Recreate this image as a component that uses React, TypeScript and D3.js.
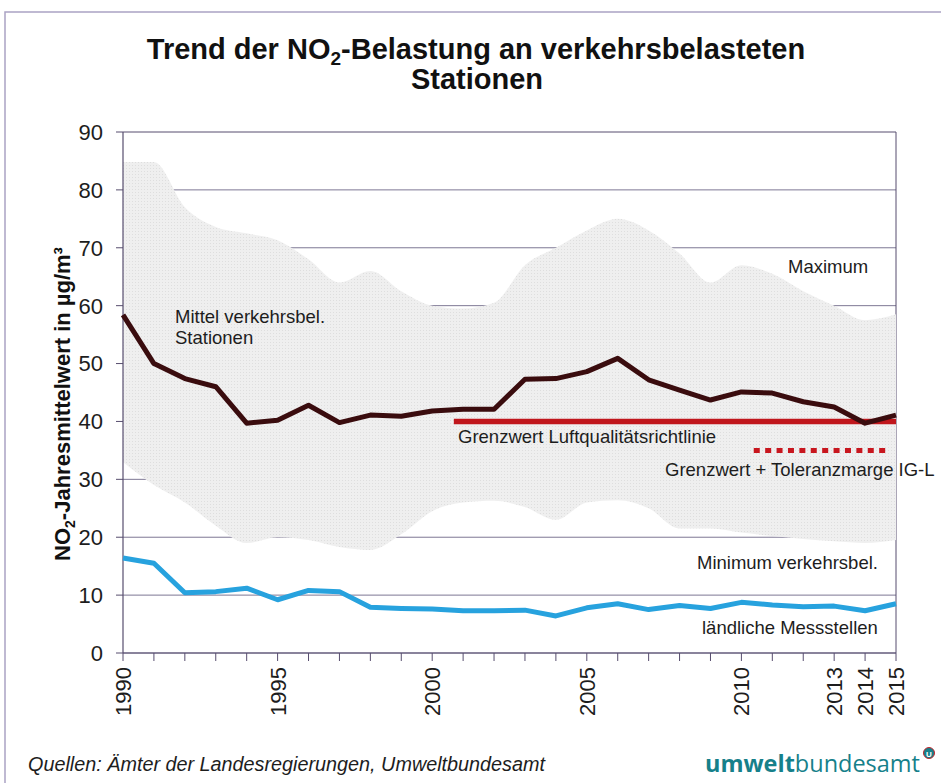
import React from "react";
import * as d3 from "d3";

const years = [1990,1991,1992,1993,1994,1995,1996,1997,1998,1999,2000,2001,2002,2003,2004,2005,2006,2007,2008,2009,2010,2011,2012,2013,2014,2015];
const meanTraffic = [58.4,50.0,47.4,46.0,39.7,40.2,42.8,39.8,41.1,40.9,41.8,42.1,42.1,47.3,47.4,48.6,50.9,47.2,45.4,43.7,45.1,44.9,43.4,42.5,39.7,41.1];
const rural = [16.4,15.5,10.4,10.6,11.2,9.2,10.8,10.6,7.9,7.7,7.6,7.3,7.3,7.4,6.4,7.8,8.5,7.5,8.2,7.7,8.75,8.3,8.0,8.1,7.3,8.5];
const maxTraffic = [84.8,84.8,77,73.6,72.5,71.3,68,64,66,62.5,60,59.5,60.5,67,70,73,75,73,69,64,67,65.5,62.5,60,57.5,58.5];
const minTraffic = [33,29,26,22,19,20,19.5,18.3,17.8,20.5,24.5,26,26.3,25.2,23,26,26.4,25,21.5,21.5,20.8,20.2,19.7,19.3,19,19.5];
const limitValue = 40;
const limitRange = [2000.7, 2015];
const toleranceValue = 35;
const toleranceRange = [2010.4, 2014.8];
const yTicks = [0,10,20,30,40,50,60,70,80,90];
const xTickLabels = [1990,1995,2000,2005,2010,2013,2014,2015];

export default function App() {
  const W = 941, H = 783;
  const x = d3.scaleLinear().domain([1990, 2015]).range([123, 896]);
  const y = d3.scaleLinear().domain([0, 90]).range([653, 132]);
  const band = d3.area<number>()
    .x((_, i) => x(years[i]))
    .y0((_, i) => y(minTraffic[i]))
    .y1((_, i) => y(maxTraffic[i]))
    .curve(d3.curveMonotoneX)(years) || "";
  const line = (vals: number[]) =>
    d3.line<number>().x((_, i) => x(years[i])).y((d) => y(d))(vals) || "";
  const font = "'Liberation Sans', Arial, sans-serif";
  const gridColor = "#7d7794";
  const axisColor = "#574d6e";
  const textColor = "#1d1d1d";
  return (
    <svg width={W} height={H} style={{ position: "absolute", left: 0, top: 0, background: "#fff" }} fontFamily={font}>
      <defs>
        <pattern id="tex" width="3" height="3" patternUnits="userSpaceOnUse">
          <rect width="3" height="3" fill="#efefef" />
          <rect width="1" height="1" fill="#dedede" />
        </pattern>
      </defs>
      <rect x={0} y={0} width={W} height={H} fill="#fff" />
      <rect x={5} y={12} width={W + 10} height={H + 10} fill="none" stroke="#aaa3c4" strokeWidth={1.5} />
      {/* Title */}
      <text x={476} y={59} textAnchor="middle" fontSize={29} fontWeight="bold" fill="#111">
        Trend der NO<tspan fontSize={19} dy={6}>2</tspan><tspan dy={-6}>-Belastung an verkehrsbelasteten</tspan>
      </text>
      <text x={477} y={89} textAnchor="middle" fontSize={29} fontWeight="bold" fill="#111">Stationen</text>
      {/* gridlines */}
      {yTicks.map((t) => (
        <line key={t} x1={x(1990)} x2={x(2015)} y1={y(t)} y2={y(t)} stroke={t === 90 ? axisColor : gridColor} strokeWidth={1} />
      ))}
      <line x1={x(2015)} x2={x(2015)} y1={y(90)} y2={y(0)} stroke={axisColor} strokeWidth={1} />
      {/* band */}
      <path d={band} fill="url(#tex)" stroke="none" />
      {/* axes */}
      <line x1={x(1990)} x2={x(1990)} y1={y(90)} y2={y(0)} stroke={axisColor} strokeWidth={1.2} />
      <line x1={x(1990)} x2={x(2015)} y1={y(0)} y2={y(0)} stroke={axisColor} strokeWidth={1.2} />
      {yTicks.map((t) => (
        <g key={t}>
          <line x1={x(1990) - 7} x2={x(1990)} y1={y(t)} y2={y(t)} stroke={axisColor} strokeWidth={1} />
          <text x={103} y={y(t)} dy="0.36em" textAnchor="end" fontSize={22} fill={textColor}>{t}</text>
        </g>
      ))}
      {years.map((yr) => (
        <line key={yr} x1={x(yr)} x2={x(yr)} y1={y(0)} y2={y(0) + 8} stroke={axisColor} strokeWidth={1} />
      ))}
      {xTickLabels.map((yr) => (
        <text key={yr} transform={`translate(${x(yr)},667) rotate(-90)`} dy="0.36em" textAnchor="end" fontSize={22} fill={textColor}>{yr}</text>
      ))}
      {/* y title */}
      <text transform="translate(70,404) rotate(-90)" textAnchor="middle" fontSize={22} fontWeight="bold" fill="#111">
        NO<tspan fontSize={14} dy={5}>2</tspan><tspan dy={-5}>-Jahresmittelwert in µg/m³</tspan>
      </text>
      {/* limit lines */}
      <line x1={x(limitRange[0])} x2={x(limitRange[1])} y1={y(limitValue)} y2={y(limitValue)} stroke="#c0161c" strokeWidth={5.5} />
      <line x1={x(toleranceRange[0])} x2={x(toleranceRange[1])} y1={y(toleranceValue)} y2={y(toleranceValue)} stroke="#c8161e" strokeWidth={5} strokeDasharray="6 5.4" />
      {/* series */}
      <path d={line(meanTraffic)} fill="none" stroke="#3a0c0e" strokeWidth={5} strokeLinejoin="round" />
      <path d={line(rural)} fill="none" stroke="#27a2de" strokeWidth={5} strokeLinejoin="round" />
      {/* labels */}
      <g fontSize={18.5} fill={textColor}>
        <text x={175} y={323}>Mittel verkehrsbel.</text>
        <text x={175} y={344}>Stationen</text>
        <text x={788} y={273}>Maximum</text>
        <text x={458} y={443}>Grenzwert Luftqualitätsrichtlinie</text>
        <text x={665} y={476}>Grenzwert + Toleranzmarge IG-L</text>
        <text x={697} y={569}>Minimum verkehrsbel.</text>
        <text x={702} y={634}>ländliche Messstellen</text>
      </g>
      {/* footer */}
      <text x={28} y={771} fontSize={19.5} fontStyle="italic" fill={textColor} textLength={517} lengthAdjust="spacingAndGlyphs">Quellen: Ämter der Landesregierungen, Umweltbundesamt</text>
      <text x={705} y={772} fontSize={24} fill="#16808a" fontFamily="'Open Sans', 'Noto Sans', sans-serif" textLength={215} lengthAdjust="spacingAndGlyphs">
        <tspan fontWeight="bold">umwelt</tspan><tspan>bundesamt</tspan>
      </text>
      <circle cx={929} cy={753} r={5.5} fill="#16808a" stroke="#c0262c" strokeWidth={1} />
      <text x={929} y={756.5} textAnchor="middle" fontSize={8} fontWeight="bold" fill="#fff">U</text>
    </svg>
  );
}
